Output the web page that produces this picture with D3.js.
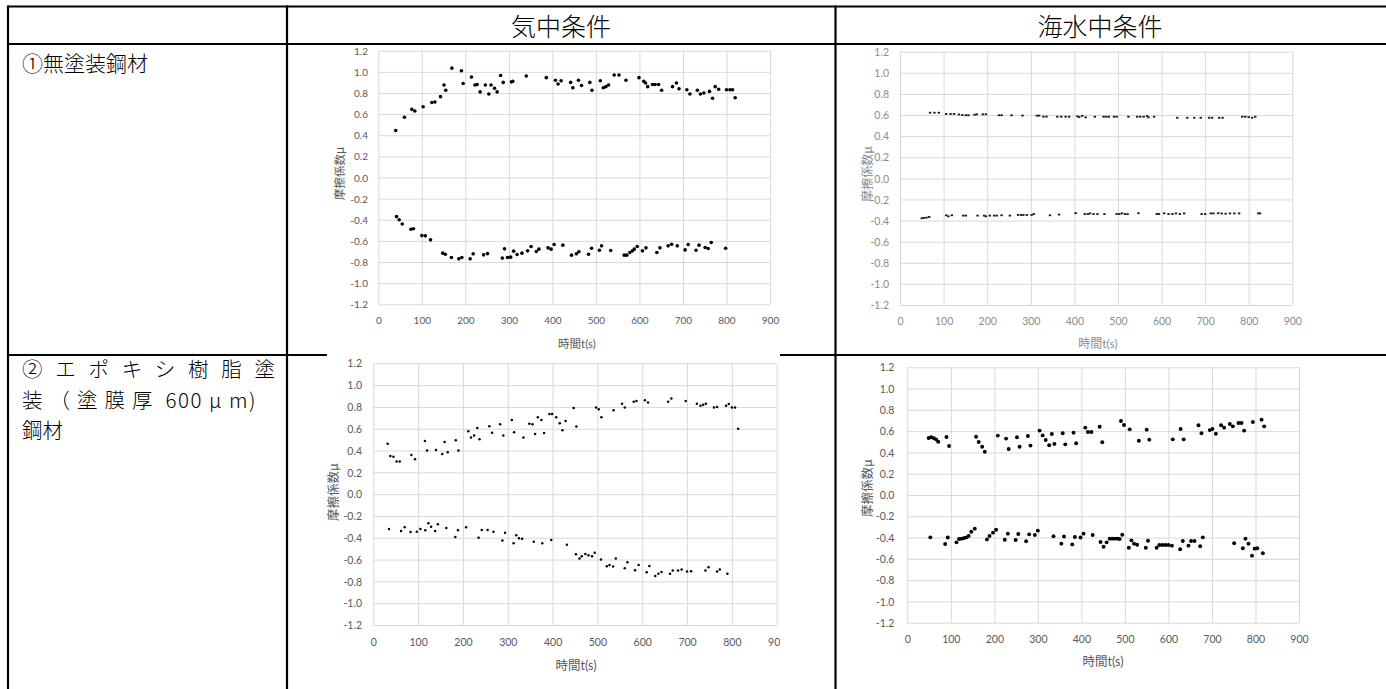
<!DOCTYPE html>
<html><head><meta charset="utf-8">
<script src="https://cdn.jsdelivr.net/npm/d3@7"></script>
<style>body{margin:0;background:#fff}svg{display:block}</style>
</head><body>
<script>
// ---------- DATA ----------
const columnHeaders = ["気中条件", "海水中条件"];
const row1Label = ["①無塗装鋼材"];
const row2Label = ["②エポキシ樹脂塗", "装（塗膜厚", " 600 μ m)", "鋼材"];
const xTicks = [0, 100, 200, 300, 400, 500, 600, 700, 800, 900];
const yTicks = [-1.2, -1.0, -0.8, -0.6, -0.4, -0.2, 0.0, 0.2, 0.4, 0.6, 0.8, 1.0, 1.2];
const xTitle = "時間t(s)";
const yTitle = "摩擦係数μ";

// ① 無塗装鋼材・気中 [t, μ]
const airBareUpper = [[40,.445],[60,.57],[77,.645],[84,.63],[103,.67],[123,.71],[130,.715],[143,.765],[151,.875],[155,.825],[169,1.035],[191,1.01],[195,.89],[214,.95],[222,.875],[227,.88],[234,.81],[246,.875],[254,.79],[259,.875],[267,.845],[273,.81],[281,.965],[287,.90],[306,.905],[309,.91],[340,.96],[386,.945],[407,.92],[413,.885],[420,.915],[442,.90],[447,.85],[460,.92],[467,.87],[486,.90],[491,.825],[510,.915],[517,.85],[523,.86],[529,.875],[542,.97],[553,.97],[569,.92],[599,.945],[610,.91],[614,.895],[619,.86],[630,.88],[636,.88],[644,.88],[651,.825],[676,.86],[685,.895],[691,.84],[709,.83],[716,.79],[733,.825],[740,.79],[748,.80],[761,.815],[768,.75],[774,.86],[782,.835],[800,.83],[808,.83],[814,.83],[820,.755]];
const airBareLower = [[42,-.37],[48,-.40],[55,-.44],[75,-.49],[81,-.485],[100,-.55],[108,-.552],[120,-.59],[148,-.716],[154,-.726],[168,-.757],[185,-.77],[192,-.757],[211,-.77],[218,-.722],[242,-.732],[251,-.72],[285,-.763],[290,-.675],[297,-.757],[304,-.754],[311,-.697],[319,-.729],[330,-.716],[343,-.694],[351,-.653],[363,-.70],[369,-.678],[390,-.666],[397,-.678],[404,-.634],[424,-.64],[444,-.735],[455,-.722],[461,-.703],[483,-.726],[490,-.669],[508,-.688],[513,-.647],[534,-.691],[565,-.735],[571,-.735],[578,-.71],[584,-.694],[588,-.678],[595,-.653],[607,-.694],[615,-.666],[640,-.71],[647,-.666],[666,-.647],[674,-.631],[687,-.647],[705,-.685],[712,-.634],[730,-.688],[737,-.64],[751,-.662],[758,-.672],[765,-.615],[798,-.669]];

// ① 無塗装鋼材・海水中
const seaBareUpper = [[69,.622],[79,.622],[89,.622],[106,.61],[116,.61],[124,.61],[135,.605],[143,.60],[151,.598],[157,.598],[171,.603],[176,.607],[190,.607],[197,.607],[227,.598],[233,.598],[256,.597],[281,.595],[314,.594],[319,.594],[329,.585],[336,.585],[361,.584],[370,.584],[380,.584],[388,.584],[407,.588],[411,.58],[418,.592],[426,.578],[447,.584],[467,.584],[473,.584],[479,.584],[491,.584],[497,.584],[524,.584],[544,.584],[551,.584],[559,.584],[567,.59],[570,.578],[583,.584],[636,.574],[659,.574],[675,.574],[690,.574],[709,.574],[716,.574],[732,.574],[740,.574],[785,.584],[792,.584],[800,.58],[808,.574],[815,.584]];
const seaBareLower = [[50,-.378],[55,-.375],[61,-.372],[67,-.366],[106,-.35],[111,-.36],[119,-.35],[145,-.353],[151,-.353],[178,-.353],[193,-.353],[197,-.36],[206,-.353],[216,-.353],[222,-.353],[233,-.35],[252,-.353],[271,-.347],[278,-.347],[283,-.347],[291,-.347],[302,-.347],[307,-.338],[344,-.35],[365,-.343],[403,-.33],[424,-.338],[431,-.338],[436,-.332],[444,-.338],[453,-.338],[469,-.338],[497,-.338],[503,-.338],[509,-.332],[516,-.338],[522,-.338],[547,-.33],[589,-.338],[594,-.338],[606,-.332],[616,-.338],[625,-.338],[633,-.332],[642,-.338],[652,-.332],[692,-.338],[700,-.338],[713,-.332],[719,-.332],[730,-.33],[738,-.333],[747,-.335],[757,-.332],[767,-.332],[778,-.332],[822,-.332],[826,-.332]];

// ② エポキシ樹脂塗装鋼材・気中
const airEpoxyUpper = [[32,.463],[38,.35],[45,.344],[52,.30],[59,.30],[85,.36],[93,.32],[115,.488],[120,.40],[140,.405],[154,.368],[159,.478],[166,.384],[184,.494],[190,.40],[212,.576],[218,.52],[225,.537],[232,.607],[237,.503],[259,.622],[265,.564],[283,.64],[290,.537],[309,.68],[314,.567],[335,.52],[348,.646],[355,.64],[361,.552],[367,.705],[375,.68],[381,.56],[393,.735],[399,.735],[408,.705],[416,.65],[422,.585],[429,.67],[447,.79],[453,.62],[497,.795],[503,.778],[509,.705],[536,.77],[555,.83],[561,.794],[581,.848],[587,.855],[606,.86],[613,.84],[658,.848],[665,.878],[697,.855],[722,.83],[730,.81],[736,.82],[742,.83],[760,.794],[767,.80],[787,.81],[793,.826],[800,.794],[807,.794],[814,.60]];
const airEpoxyLower = [[35,-.32],[62,-.338],[70,-.304],[83,-.347],[97,-.344],[105,-.32],[116,-.332],[123,-.268],[129,-.30],[138,-.338],[144,-.277],[163,-.31],[183,-.393],[189,-.332],[207,-.304],[235,-.40],[242,-.329],[255,-.329],[268,-.344],[288,-.426],[294,-.353],[313,-.45],[319,-.378],[325,-.405],[332,-.41],[358,-.437],[377,-.45],[397,-.42],[432,-.465],[452,-.552],[460,-.59],[465,-.57],[473,-.55],[480,-.56],[488,-.57],[494,-.537],[508,-.60],[521,-.662],[527,-.65],[535,-.664],[541,-.59],[561,-.68],[567,-.625],[584,-.699],[592,-.65],[610,-.716],[616,-.658],[629,-.75],[636,-.73],[643,-.714],[662,-.73],[668,-.70],[680,-.70],[688,-.69],[700,-.71],[709,-.706],[741,-.70],[748,-.67],[767,-.71],[773,-.69],[790,-.73]];

// ② エポキシ樹脂塗装鋼材・海水中
const seaEpoxyUpper = [[49,.536],[55,.542],[61,.533],[66,.523],[71,.50],[90,.545],[96,.46],[158,.548],[164,.498],[172,.454],[178,.407],[208,.558],[227,.53],[233,.432],[252,.542],[258,.454],[277,.555],[283,.464],[304,.605],[311,.56],[318,.517],[326,.467],[332,.573],[338,.48],[357,.58],[363,.476],[382,.586],[388,.486],[409,.633],[415,.592],[423,.592],[442,.642],[448,.495],[491,.695],[498,.658],[511,.617],[532,.51],[550,.614],[556,.52],[610,.523],[628,.62],[635,.523],[669,.655],[676,.58],[695,.61],[701,.62],[709,.576],[721,.655],[728,.633],[741,.667],[748,.645],[761,.677],[768,.677],[774,.605],[794,.686],[814,.708],[820,.645]];
const seaEpoxyLower = [[53,-.398],[87,-.46],[93,-.40],[113,-.445],[119,-.414],[125,-.41],[131,-.404],[136,-.398],[141,-.385],[147,-.345],[155,-.316],[183,-.417],[189,-.385],[197,-.354],[204,-.326],[224,-.42],[231,-.363],[249,-.423],[255,-.367],[273,-.435],[280,-.37],[293,-.376],[300,-.335],[336,-.388],[354,-.457],[360,-.39],[379,-.464],[385,-.395],[398,-.40],[405,-.363],[426,-.376],[444,-.442],[451,-.486],[458,-.445],[465,-.41],[471,-.41],[477,-.41],[483,-.41],[488,-.414],[494,-.373],[509,-.495],[515,-.426],[521,-.457],[528,-.467],[548,-.495],[553,-.43],[573,-.495],[579,-.47],[586,-.47],[593,-.47],[600,-.47],[608,-.476],[627,-.51],[633,-.432],[646,-.476],[652,-.432],[660,-.432],[673,-.482],[679,-.398],[751,-.454],[771,-.50],[777,-.41],[784,-.457],[792,-.57],[798,-.504],[804,-.50],[817,-.548]];

// ---------- DRAW ----------
const W = 1386, H = 689;
const svg = d3.select("body").append("svg").attr("width", W).attr("height", H);
const cjk = "'Noto Sans CJK JP','Noto Sans',sans-serif";
const num = "Lato,'Noto Sans CJK JP',sans-serif";

// table lines
const tbl = svg.append("g").attr("stroke", "#000").attr("stroke-width", 2.2);
[[8, 6.5, 1386, 6.5], [8, 44, 1386, 44], [8, 355, 1386, 355],
 [8, 5.4, 8, H], [287, 5.4, 287, H], [835.5, 5.4, 835.5, H]].forEach(l =>
  tbl.append("line").attr("x1", l[0]).attr("y1", l[1]).attr("x2", l[2]).attr("y2", l[3]));

// header texts
[[561, columnHeaders[0]], [1100, columnHeaders[1]]].forEach(h =>
  svg.append("text").attr("x", h[0]).attr("y", 25).attr("text-anchor", "middle")
    .attr("dominant-baseline", "central").attr("font-family", cjk).attr("font-weight", 300)
    .attr("font-size", 25).text(h[1]));

// row labels
svg.append("text").attr("x", 22).attr("y", 62).attr("dominant-baseline", "central")
  .attr("font-family", cjk).attr("font-weight", 300).attr("font-size", 21).text(row1Label[0]);

const lab = (y, fs) => svg.append("text").attr("x", 22).attr("y", y).attr("dominant-baseline", "central")
  .attr("font-family", cjk).attr("font-weight", 300).attr("font-size", fs);
lab(368, 20.5).attr("textLength", 253).attr("lengthAdjust", "spacing").text(row2Label[0]);
const l2 = lab(398.5, 20.5);
l2.append("tspan").attr("letter-spacing", 7).text(row2Label[1]);
l2.append("tspan").attr("letter-spacing", 1.5).text(row2Label[2]);
lab(429, 20.5).text(row2Label[3]);

// white background of the pasted chart image (row 2, col 2) hiding the row divider
svg.append("rect").attr("x", 327).attr("y", 349).attr("width", 453).attr("height", H - 349).attr("fill", "#fff");

const panels = [
  {upper: airBareUpper, lower: airBareLower, left: 378.3, right: 770, top: 50.7, bottom: 304.3,
   yLab: 368, xLab: 321, xT: [577, 343], yT: [339, 173.5], r: 1.8, shape: "circle",
   txt: "#595959", fs: 10, tfs: 11.5},
  {upper: seaBareUpper, lower: seaBareLower, left: 900, right: 1292.3, top: 51.7, bottom: 305,
   yLab: 889, xLab: 321.7, xT: [1098, 343], yT: [866, 174], r: 1.0, shape: "rect",
   txt: "#8c8c8c", fs: 10.5, tfs: 12, clip: [858, 45, 480, 308]},
  {upper: airEpoxyUpper, lower: airEpoxyLower, left: 373.3, right: 776.7, top: 363.3, bottom: 625,
   yLab: 362, xLab: 642.3, xT: [576, 665], yT: [332, 492], r: 1.25, shape: "circle",
   txt: "#595959", fs: 10.5, tfs: 12.5, clip: [327, 356, 453, 333]},
  {upper: seaEpoxyUpper, lower: seaEpoxyLower, left: 907.3, right: 1299, top: 367.3, bottom: 622.7,
   yLab: 894.3, xLab: 639.3, xT: [1103, 661], yT: [866, 488], r: 1.95, shape: "circle",
   txt: "#595959", fs: 10.5, tfs: 12.5, clip: [858, 356, 480, 333]}
];

panels.forEach((p, i) => {
  let g = svg.append("g");
  if (p.clip) {
    const id = "clip" + i;
    svg.append("clipPath").attr("id", id).append("rect")
      .attr("x", p.clip[0]).attr("y", p.clip[1]).attr("width", p.clip[2]).attr("height", p.clip[3]);
    g.attr("clip-path", `url(#${id})`);
  }
  const x = d3.scaleLinear().domain([0, 900]).range([p.left, p.right]);
  const y = d3.scaleLinear().domain([-1.2, 1.2]).range([p.bottom, p.top]);
  const fmt = d => (Math.abs(d) < 1e-9 ? 0 : d).toFixed(1);

  const ya = g.append("g").attr("transform", `translate(${p.left},0)`)
    .call(d3.axisLeft(y).tickValues(yTicks).tickFormat(fmt)
      .tickSize(-(p.right - p.left)).tickPadding(p.left - p.yLab));
  const xa = g.append("g").attr("transform", `translate(0,${p.bottom})`)
    .call(d3.axisBottom(x).tickValues(xTicks).tickFormat(d3.format("d"))
      .tickSize(-(p.bottom - p.top)));
  [ya, xa].forEach(a => {
    a.select(".domain").remove();
    a.selectAll("line").attr("stroke", "#d9d9d9").attr("stroke-width", 1);
    a.selectAll("text").attr("fill", p.txt).attr("font-family", num).attr("font-size", p.fs);
  });
  ya.selectAll("text").attr("dy", "0.35em");
  xa.selectAll("text").attr("y", p.xLab - p.bottom).attr("dy", "0.35em");

  const pts = p.upper.concat(p.lower);
  if (p.shape === "circle") {
    g.append("g").selectAll("circle").data(pts).join("circle")
      .attr("cx", d => x(d[0])).attr("cy", d => y(d[1])).attr("r", p.r).attr("fill", "#000");
  } else {
    g.append("g").selectAll("rect").data(pts).join("rect")
      .attr("x", d => x(d[0]) - 1.2).attr("y", d => y(d[1]) - 0.9)
      .attr("width", 2.4).attr("height", 1.8).attr("fill", "#1a1a1a");
  }

  g.append("text").attr("x", p.xT[0]).attr("y", p.xT[1]).attr("text-anchor", "middle")
    .attr("dominant-baseline", "central").attr("fill", p.txt).attr("font-family", num)
    .attr("font-size", p.tfs).text(xTitle);
  g.append("text").attr("transform", `translate(${p.yT[0]},${p.yT[1]}) rotate(-90)`)
    .attr("text-anchor", "middle").attr("dominant-baseline", "central").attr("fill", p.txt)
    .attr("font-family", cjk).attr("font-size", p.tfs).text(yTitle);
});
</script>
</body></html>
